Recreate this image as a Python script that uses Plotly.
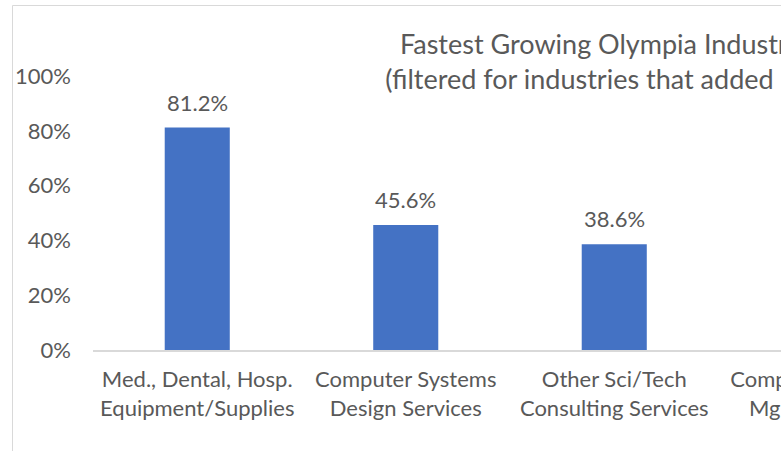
import plotly.graph_objects as go

# Industry growth, percent change in employment
categories = [
    "Med., Dental, Hosp.<br>Equipment/Supplies",
    "Computer Systems<br>Design Services",
    "Other Sci/Tech<br>Consulting Services",
    "Computer Facilities<br>Mgmt. Services",
]
growth_pct = [81.2, 45.6, 38.6, None]
y_ticks = [0, 20, 40, 60, 80, 100]
y_tick_labels = [f"{t}%" for t in y_ticks]

title_lines = [
    "Fastest Growing Olympia Industries",
    "(filtered for industries that added 50+)",
]

FONT = "Lato, Calibri, Carlito, sans-serif"
TEXT = "#595959"
BLUE = "#4472C4"
LINE = "#D9D9D9"

ML, MT, MB = 93, 76, 101
PITCH = 208.5
PLOT_W = PITCH * len(categories)
W = int(ML + PLOT_W + 20)
H = 451
PLOT_H = H - MT - MB

fig = go.Figure(
    go.Bar(
        x=categories,
        y=growth_pct,
        marker=dict(color=BLUE, line=dict(width=0)),
        hoverinfo="skip",
    )
)

# value labels above each bar
for cat, v in zip(categories, growth_pct):
    if v is None:
        continue
    fig.add_annotation(
        x=cat, y=v, text=f"{v:.1f}%", showarrow=False,
        yanchor="bottom", yshift=10,
        font=dict(family=FONT, size=22, color=TEXT),
    )

# chart-area border
def px_to_paper_x(px):
    return (px - ML) / PLOT_W

def px_to_paper_y(py):
    return (H - MB - py) / PLOT_H

fig.add_shape(
    type="rect", xref="paper", yref="paper",
    x0=px_to_paper_x(12.5), x1=px_to_paper_x(W + 20),
    y0=px_to_paper_y(H + 20), y1=px_to_paper_y(5.5),
    line=dict(color=LINE, width=1), fillcolor="rgba(0,0,0,0)", layer="below",
)

fig.update_layout(
    width=W, height=H,
    margin=dict(l=ML, r=W - ML - int(PLOT_W), t=MT, b=MB, pad=0),
    paper_bgcolor="white", plot_bgcolor="white",
    bargap=0.688,
    showlegend=False,
    title=dict(
        text="<br>".join(title_lines),
        x=610 / W, xref="container", xanchor="center",
        y=1 - 54 / H, yref="container", yanchor="top",
        font=dict(family=FONT, size=27, color=TEXT),
    ),
    font=dict(family=FONT, color=TEXT),
    xaxis=dict(
        showline=True, linecolor=LINE, linewidth=1.5,
        showgrid=False, zeroline=False, ticks="",
        tickfont=dict(family=FONT, size=22, color=TEXT),
        ticklabelstandoff=9,
        fixedrange=True,
    ),
    yaxis=dict(
        range=[0, 100], tickvals=y_ticks, ticktext=y_tick_labels,
        showline=False, showgrid=False, zeroline=False, ticks="",
        tickfont=dict(family=FONT, size=22, color=TEXT),
        ticklabelstandoff=21,
        fixedrange=True,
    ),
)

fig.write_html(
    "out.html",
    config={"displayModeBar": False},
    post_script=(
        "document.documentElement.style.overflow='hidden';"
        "document.body.style.overflow='hidden';"
        "document.body.style.margin='0';"
    ),
)
